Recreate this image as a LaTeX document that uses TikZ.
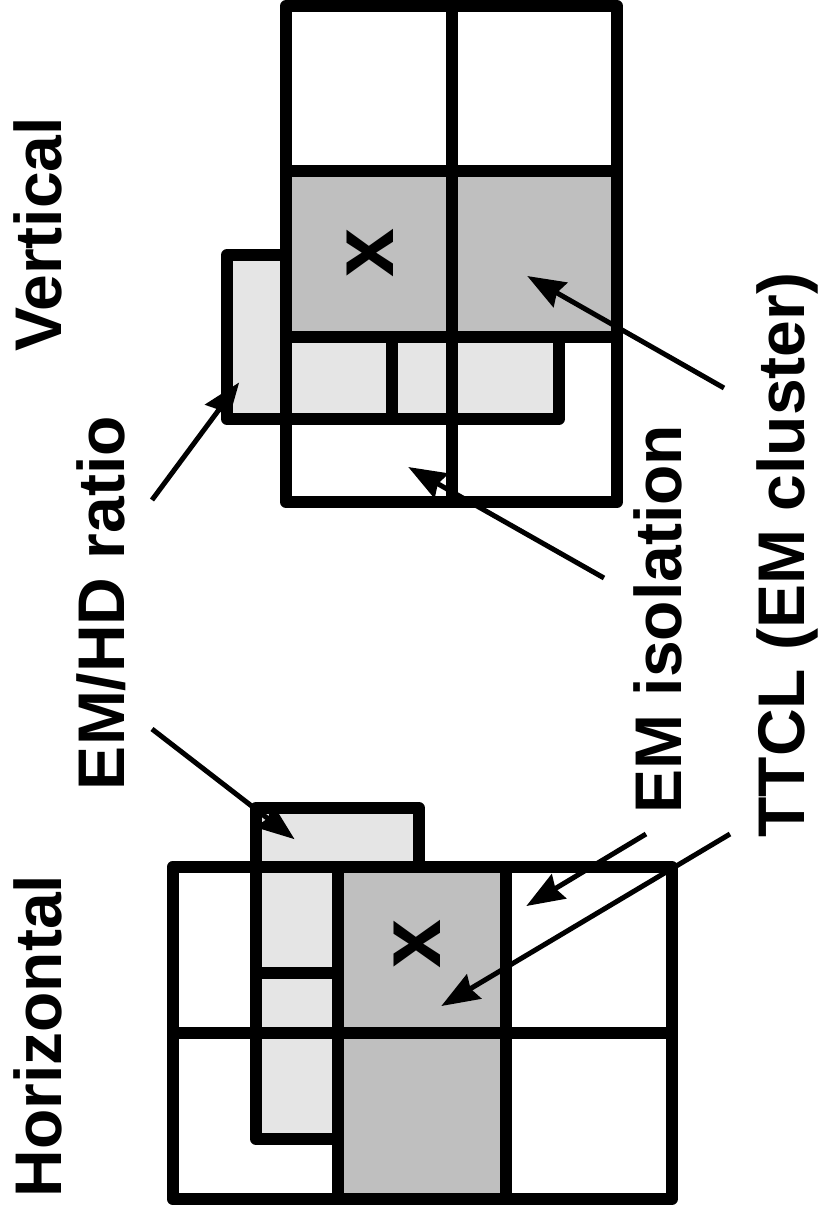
\documentclass[tikz,border=0pt]{standalone}
\usepackage{fontspec}
\setmainfont{Liberation Sans}
\usetikzlibrary{arrows.meta}

\definecolor{cellgray}{gray}{0.75}
\definecolor{lightgray}{gray}{0.9}

\tikzset{
  grid line/.style={line width=6pt, line join=round, line cap=rect},
  label text/.style={font=\bfseries\fontsize{33pt}{40pt}\selectfont, rotate=90, inner sep=0pt},
  hit mark/.style={font=\bfseries\fontsize{44pt}{48pt}\selectfont, rotate=90, inner sep=0pt},
  pointer/.style={line width=2.5pt, -{Stealth[length=19pt,width=14pt,inset=2pt]}, shorten >=-1pt}
}

\begin{document}
\begin{tikzpicture}[x=0.5pt,y=-0.5pt]
\useasboundingbox (0,0) rectangle (820,1216);

% ---------- horizontal tower configuration ----------
\fill[cellgray] (338,867) rectangle (506,1199);
\fill[lightgray] (256,808) -- (419,808) -- (419,867) -- (338,867) -- (338,1139) -- (256,1139) -- cycle;
\draw[grid line] (172.7,867) rectangle (672,1199);
\draw[grid line] (338,867) -- (338,1199);
\draw[grid line] (506,867) -- (506,1199);
\draw[grid line] (172.7,1033) -- (672,1033);
\draw[grid line] (419,867) -- (419,808) -- (256,808) -- (256,1139) -- (338,1139);
\draw[grid line] (256,973) -- (338,973);
\node[hit mark] (xh) at (417,944) {x};

% ---------- vertical tower configuration ----------
\fill[cellgray] (286,171) rectangle (617,337);
\fill[lightgray] (227,255) -- (286,255) -- (286,337) -- (559,337) -- (559,419) -- (227,419) -- cycle;
\draw[grid line] (286,6) rectangle (617,502);
\draw[grid line] (452,6) -- (452,502);
\draw[grid line] (286,171) -- (617,171);
\draw[grid line] (286,337) -- (617,337);
\draw[grid line] (286,255) -- (227,255) -- (227,419) -- (559,419) -- (559,337);
\draw[grid line] (392,337) -- (392,419);
\node[hit mark] (xv) at (370,253) {x};

% ---------- labels ----------
\node[label text] (horiz) at (38,1036) {Horizontal};
\node[label text] (vert) at (38,234.5) {Vertical};
\node[label text] (emhd) at (101,603) {EM/HD ratio};
\node[label text] (emiso) at (658,619) {EM isolation};
\node[label text] (ttcl) at (787,555) {TTCL (EM cluster)};

% ---------- pointer ends ----------
\coordinate (emhdA) at (152,729);  \coordinate (emhdAt) at (293,838);
\coordinate (emhdB) at (152,500);  \coordinate (emhdBt) at (238,384);
\coordinate (isoA)  at (646,834);  \coordinate (isoAt)  at (528,905);
\coordinate (isoB)  at (604,578);  \coordinate (isoBt)  at (410,468);
\coordinate (ttclA) at (730,834);  \coordinate (ttclAt) at (443,1005);
\coordinate (ttclB) at (724,388);  \coordinate (ttclBt) at (529,277);

\draw[pointer] (emhdA) -- (emhdAt);
\draw[pointer] (emhdB) -- (emhdBt);
\draw[pointer] (isoA) -- (isoAt);
\draw[pointer] (isoB) -- (isoBt);
\draw[pointer] (ttclA) -- (ttclAt);
\draw[pointer] (ttclB) -- (ttclBt);
\end{tikzpicture}
\end{document}
